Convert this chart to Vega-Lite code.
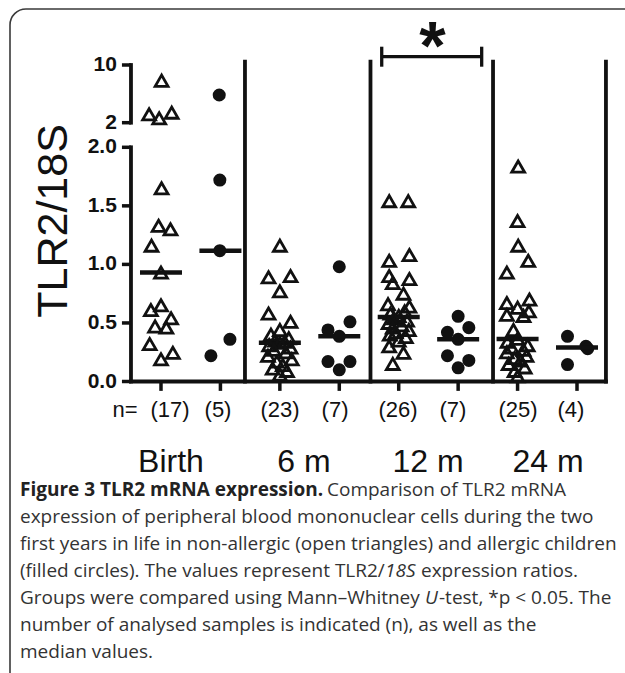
{
  "$schema": "https://vega.github.io/schema/vega-lite/v6.json",
  "width": 630,
  "height": 680,
  "autosize": {"type": "none"},
  "padding": {"left": 10, "top": 9, "right": -15, "bottom": -16},
  "background": "white",
  "config": {
    "view": {"stroke": "#3a3a3a", "strokeWidth": 1.6, "cornerRadius": 16},
    "axis": {"grid": false, "domain": false},
    "font": "Liberation Sans"
  },
  "datasets": {
    "points": [
      {"group": "Birth", "status": "non-allergic", "col": 1, "slot": 1.01, "ratio": 7.82},
      {"group": "Birth", "status": "non-allergic", "col": 1, "slot": 1.18, "ratio": 3.39},
      {"group": "Birth", "status": "non-allergic", "col": 1, "slot": 0.8, "ratio": 3.16},
      {"group": "Birth", "status": "non-allergic", "col": 1, "slot": 0.97, "ratio": 2.61},
      {"group": "Birth", "status": "non-allergic", "col": 1, "slot": 1.01, "ratio": 1.65},
      {"group": "Birth", "status": "non-allergic", "col": 1, "slot": 0.96, "ratio": 1.33},
      {"group": "Birth", "status": "non-allergic", "col": 1, "slot": 1.16, "ratio": 1.3},
      {"group": "Birth", "status": "non-allergic", "col": 1, "slot": 0.84, "ratio": 1.16},
      {"group": "Birth", "status": "non-allergic", "col": 1, "slot": 1.0, "ratio": 0.93},
      {"group": "Birth", "status": "non-allergic", "col": 1, "slot": 1.0, "ratio": 0.65},
      {"group": "Birth", "status": "non-allergic", "col": 1, "slot": 0.83, "ratio": 0.61},
      {"group": "Birth", "status": "non-allergic", "col": 1, "slot": 1.17, "ratio": 0.54},
      {"group": "Birth", "status": "non-allergic", "col": 1, "slot": 0.9, "ratio": 0.47},
      {"group": "Birth", "status": "non-allergic", "col": 1, "slot": 1.09, "ratio": 0.46},
      {"group": "Birth", "status": "non-allergic", "col": 1, "slot": 0.81, "ratio": 0.32},
      {"group": "Birth", "status": "non-allergic", "col": 1, "slot": 1.2, "ratio": 0.245},
      {"group": "Birth", "status": "non-allergic", "col": 1, "slot": 1.0, "ratio": 0.19},
      {"group": "Birth", "status": "allergic", "col": 2, "slot": 1.98, "ratio": 5.84},
      {"group": "Birth", "status": "allergic", "col": 2, "slot": 1.99, "ratio": 1.72},
      {"group": "Birth", "status": "allergic", "col": 2, "slot": 1.99, "ratio": 1.117},
      {"group": "Birth", "status": "allergic", "col": 2, "slot": 2.16, "ratio": 0.36},
      {"group": "Birth", "status": "allergic", "col": 2, "slot": 1.84, "ratio": 0.22},
      {"group": "6 m", "status": "non-allergic", "col": 3, "slot": 3.0, "ratio": 1.16},
      {"group": "6 m", "status": "non-allergic", "col": 3, "slot": 3.18, "ratio": 0.9},
      {"group": "6 m", "status": "non-allergic", "col": 3, "slot": 2.81, "ratio": 0.89},
      {"group": "6 m", "status": "non-allergic", "col": 3, "slot": 3.0, "ratio": 0.77},
      {"group": "6 m", "status": "non-allergic", "col": 3, "slot": 2.81, "ratio": 0.58},
      {"group": "6 m", "status": "non-allergic", "col": 3, "slot": 3.18, "ratio": 0.51},
      {"group": "6 m", "status": "non-allergic", "col": 3, "slot": 3.0, "ratio": 0.44},
      {"group": "6 m", "status": "non-allergic", "col": 3, "slot": 2.85, "ratio": 0.4},
      {"group": "6 m", "status": "non-allergic", "col": 3, "slot": 3.15, "ratio": 0.37},
      {"group": "6 m", "status": "non-allergic", "col": 3, "slot": 2.92, "ratio": 0.35},
      {"group": "6 m", "status": "non-allergic", "col": 3, "slot": 3.08, "ratio": 0.34},
      {"group": "6 m", "status": "non-allergic", "col": 3, "slot": 3.0, "ratio": 0.33},
      {"group": "6 m", "status": "non-allergic", "col": 3, "slot": 2.82, "ratio": 0.31},
      {"group": "6 m", "status": "non-allergic", "col": 3, "slot": 3.18, "ratio": 0.29},
      {"group": "6 m", "status": "non-allergic", "col": 3, "slot": 2.9, "ratio": 0.27},
      {"group": "6 m", "status": "non-allergic", "col": 3, "slot": 3.1, "ratio": 0.25},
      {"group": "6 m", "status": "non-allergic", "col": 3, "slot": 2.8, "ratio": 0.22},
      {"group": "6 m", "status": "non-allergic", "col": 3, "slot": 3.2, "ratio": 0.19},
      {"group": "6 m", "status": "non-allergic", "col": 3, "slot": 2.95, "ratio": 0.17},
      {"group": "6 m", "status": "non-allergic", "col": 3, "slot": 3.05, "ratio": 0.14},
      {"group": "6 m", "status": "non-allergic", "col": 3, "slot": 2.88, "ratio": 0.11},
      {"group": "6 m", "status": "non-allergic", "col": 3, "slot": 3.12, "ratio": 0.09},
      {"group": "6 m", "status": "non-allergic", "col": 3, "slot": 3.0, "ratio": 0.06},
      {"group": "6 m", "status": "allergic", "col": 4, "slot": 4.0, "ratio": 0.98},
      {"group": "6 m", "status": "allergic", "col": 4, "slot": 4.18, "ratio": 0.51},
      {"group": "6 m", "status": "allergic", "col": 4, "slot": 3.81, "ratio": 0.44},
      {"group": "6 m", "status": "allergic", "col": 4, "slot": 4.0, "ratio": 0.386},
      {"group": "6 m", "status": "allergic", "col": 4, "slot": 3.81, "ratio": 0.17},
      {"group": "6 m", "status": "allergic", "col": 4, "slot": 4.18, "ratio": 0.17},
      {"group": "6 m", "status": "allergic", "col": 4, "slot": 4.0, "ratio": 0.1},
      {"group": "12 m", "status": "non-allergic", "col": 5, "slot": 4.84, "ratio": 1.54},
      {"group": "12 m", "status": "non-allergic", "col": 5, "slot": 5.16, "ratio": 1.54},
      {"group": "12 m", "status": "non-allergic", "col": 5, "slot": 5.18, "ratio": 1.08},
      {"group": "12 m", "status": "non-allergic", "col": 5, "slot": 4.84, "ratio": 1.03},
      {"group": "12 m", "status": "non-allergic", "col": 5, "slot": 4.84, "ratio": 0.9},
      {"group": "12 m", "status": "non-allergic", "col": 5, "slot": 5.18, "ratio": 0.875},
      {"group": "12 m", "status": "non-allergic", "col": 5, "slot": 4.9, "ratio": 0.84},
      {"group": "12 m", "status": "non-allergic", "col": 5, "slot": 5.08, "ratio": 0.75},
      {"group": "12 m", "status": "non-allergic", "col": 5, "slot": 4.82, "ratio": 0.66},
      {"group": "12 m", "status": "non-allergic", "col": 5, "slot": 5.18, "ratio": 0.64},
      {"group": "12 m", "status": "non-allergic", "col": 5, "slot": 5.1, "ratio": 0.6},
      {"group": "12 m", "status": "non-allergic", "col": 5, "slot": 4.86, "ratio": 0.58},
      {"group": "12 m", "status": "non-allergic", "col": 5, "slot": 5.0, "ratio": 0.56},
      {"group": "12 m", "status": "non-allergic", "col": 5, "slot": 4.92, "ratio": 0.54},
      {"group": "12 m", "status": "non-allergic", "col": 5, "slot": 5.14, "ratio": 0.52},
      {"group": "12 m", "status": "non-allergic", "col": 5, "slot": 4.83, "ratio": 0.5},
      {"group": "12 m", "status": "non-allergic", "col": 5, "slot": 5.05, "ratio": 0.48},
      {"group": "12 m", "status": "non-allergic", "col": 5, "slot": 4.9, "ratio": 0.46},
      {"group": "12 m", "status": "non-allergic", "col": 5, "slot": 5.17, "ratio": 0.44},
      {"group": "12 m", "status": "non-allergic", "col": 5, "slot": 4.95, "ratio": 0.42},
      {"group": "12 m", "status": "non-allergic", "col": 5, "slot": 4.85, "ratio": 0.4},
      {"group": "12 m", "status": "non-allergic", "col": 5, "slot": 5.12, "ratio": 0.38},
      {"group": "12 m", "status": "non-allergic", "col": 5, "slot": 5.0, "ratio": 0.35},
      {"group": "12 m", "status": "non-allergic", "col": 5, "slot": 4.84, "ratio": 0.3},
      {"group": "12 m", "status": "non-allergic", "col": 5, "slot": 5.08, "ratio": 0.245},
      {"group": "12 m", "status": "non-allergic", "col": 5, "slot": 4.9, "ratio": 0.15},
      {"group": "12 m", "status": "allergic", "col": 6, "slot": 6.0, "ratio": 0.557},
      {"group": "12 m", "status": "allergic", "col": 6, "slot": 6.18, "ratio": 0.46},
      {"group": "12 m", "status": "allergic", "col": 6, "slot": 5.82, "ratio": 0.42},
      {"group": "12 m", "status": "allergic", "col": 6, "slot": 6.0, "ratio": 0.36},
      {"group": "12 m", "status": "allergic", "col": 6, "slot": 5.82, "ratio": 0.22},
      {"group": "12 m", "status": "allergic", "col": 6, "slot": 6.18, "ratio": 0.18},
      {"group": "12 m", "status": "allergic", "col": 6, "slot": 6.0, "ratio": 0.117},
      {"group": "24 m", "status": "non-allergic", "col": 7, "slot": 7.01, "ratio": 1.835},
      {"group": "24 m", "status": "non-allergic", "col": 7, "slot": 7.0, "ratio": 1.37},
      {"group": "24 m", "status": "non-allergic", "col": 7, "slot": 7.01, "ratio": 1.16},
      {"group": "24 m", "status": "non-allergic", "col": 7, "slot": 7.18, "ratio": 1.03},
      {"group": "24 m", "status": "non-allergic", "col": 7, "slot": 6.82, "ratio": 0.93},
      {"group": "24 m", "status": "non-allergic", "col": 7, "slot": 7.2, "ratio": 0.7},
      {"group": "24 m", "status": "non-allergic", "col": 7, "slot": 6.82, "ratio": 0.67},
      {"group": "24 m", "status": "non-allergic", "col": 7, "slot": 7.0, "ratio": 0.63},
      {"group": "24 m", "status": "non-allergic", "col": 7, "slot": 7.19, "ratio": 0.6},
      {"group": "24 m", "status": "non-allergic", "col": 7, "slot": 6.82, "ratio": 0.57},
      {"group": "24 m", "status": "non-allergic", "col": 7, "slot": 7.1, "ratio": 0.56},
      {"group": "24 m", "status": "non-allergic", "col": 7, "slot": 6.93, "ratio": 0.44},
      {"group": "24 m", "status": "non-allergic", "col": 7, "slot": 7.0, "ratio": 0.364},
      {"group": "24 m", "status": "non-allergic", "col": 7, "slot": 6.83, "ratio": 0.34},
      {"group": "24 m", "status": "non-allergic", "col": 7, "slot": 7.17, "ratio": 0.31},
      {"group": "24 m", "status": "non-allergic", "col": 7, "slot": 6.9, "ratio": 0.29},
      {"group": "24 m", "status": "non-allergic", "col": 7, "slot": 7.1, "ratio": 0.27},
      {"group": "24 m", "status": "non-allergic", "col": 7, "slot": 6.82, "ratio": 0.25},
      {"group": "24 m", "status": "non-allergic", "col": 7, "slot": 7.15, "ratio": 0.22},
      {"group": "24 m", "status": "non-allergic", "col": 7, "slot": 6.95, "ratio": 0.2},
      {"group": "24 m", "status": "non-allergic", "col": 7, "slot": 7.05, "ratio": 0.18},
      {"group": "24 m", "status": "non-allergic", "col": 7, "slot": 6.85, "ratio": 0.15},
      {"group": "24 m", "status": "non-allergic", "col": 7, "slot": 7.12, "ratio": 0.12},
      {"group": "24 m", "status": "non-allergic", "col": 7, "slot": 6.95, "ratio": 0.09},
      {"group": "24 m", "status": "non-allergic", "col": 7, "slot": 7.0, "ratio": 0.045},
      {"group": "24 m", "status": "allergic", "col": 8, "slot": 7.84, "ratio": 0.386},
      {"group": "24 m", "status": "allergic", "col": 8, "slot": 8.15, "ratio": 0.3},
      {"group": "24 m", "status": "allergic", "col": 8, "slot": 8.18, "ratio": 0.28},
      {"group": "24 m", "status": "allergic", "col": 8, "slot": 7.84, "ratio": 0.145}
    ],
    "frame": [
      {"part": "separator", "slot": 2.413, "slot2": 2.413, "low": 0, "high": 10.45},
      {"part": "separator", "slot": 4.525, "slot2": 4.525, "low": 0, "high": 10.45},
      {"part": "separator", "slot": 6.587, "slot2": 6.587, "low": 0, "high": 10.45},
      {"part": "separator", "slot": 8.487, "slot2": 8.487, "low": 0, "high": 10.45},
      {"part": "y axis lower", "slot": 0.495, "slot2": 0.495, "low": 0, "high": 2},
      {"part": "y axis upper", "slot": 0.495, "slot2": 0.495, "low": 2.0001, "high": 10},
      {"part": "x axis", "slot": 0.495, "slot2": 8.487, "low": 0, "high": 0}
    ],
    "yticks": [
      {"tick": 0, "label": "0.0"},
      {"tick": 0.5, "label": "0.5"},
      {"tick": 1, "label": "1.0"},
      {"tick": 1.5, "label": "1.5"},
      {"tick": 2, "label": "2.0"},
      {"tick": 2.0001, "label": "2"},
      {"tick": 10, "label": "10"}
    ],
    "xticks": [
      {"col": 1}, {"col": 2}, {"col": 3}, {"col": 4}, {"col": 5}, {"col": 6}, {"col": 7}, {"col": 8}
    ],
    "bracket": [
      {"part": "bar", "slot": 4.714, "slot2": 6.396, "low": 11.151, "high": 11.151},
      {"part": "left cap", "slot": 4.714, "slot2": 4.714, "low": 9.764, "high": 12.537},
      {"part": "right cap", "slot": 6.396, "slot2": 6.396, "low": 9.764, "high": 12.537}
    ],
    "labels": [
      {"kind": "n", "text": "n=", "slot": 0.394, "line": -1.967},
      {"kind": "n", "text": "(17)", "slot": 1.151, "line": -1.967},
      {"kind": "n", "text": "(5)", "slot": 1.959, "line": -1.967},
      {"kind": "n", "text": "(23)", "slot": 3.002, "line": -1.967},
      {"kind": "n", "text": "(7)", "slot": 3.928, "line": -1.967},
      {"kind": "n", "text": "(26)", "slot": 4.988, "line": -1.967},
      {"kind": "n", "text": "(7)", "slot": 5.913, "line": -1.967},
      {"kind": "n", "text": "(25)", "slot": 7.007, "line": -1.967},
      {"kind": "n", "text": "(4)", "slot": 7.898, "line": -1.967},
      {"kind": "group", "text": "Birth", "slot": 1.168, "line": -0.04},
      {"kind": "group", "text": "6 m", "slot": 3.406, "line": -0.04},
      {"kind": "group", "text": "12 m", "slot": 5.493, "line": -0.04},
      {"kind": "group", "text": "24 m", "slot": 7.512, "line": -0.04}
    ],
    "caption": [
      {"line": 1, "seg": "title", "text": "Figure 3 TLR2 mRNA expression."},
      {"line": 1, "seg": "after-title", "text": "Comparison of TLR2 mRNA"},
      {"line": 2, "seg": "start", "text": "expression of peripheral blood mononuclear cells during the two"},
      {"line": 3, "seg": "start", "text": "first years in life in non-allergic (open triangles) and allergic children"},
      {"line": 4, "seg": "start", "text": "(filled circles). The values represent TLR2/"},
      {"line": 4, "seg": "italic-a", "text": "18S"},
      {"line": 4, "seg": "after-a", "text": "expression ratios."},
      {"line": 5, "seg": "start", "text": "Groups were compared using Mann–Whitney"},
      {"line": 5, "seg": "italic-b", "text": "U"},
      {"line": 5, "seg": "after-b", "text": "-test, *p < 0.05. The"},
      {"line": 6, "seg": "start", "text": "number of analysed samples is indicated (n), as well as the"},
      {"line": 7, "seg": "start", "text": "median values."}
    ]
  },
  "layer": [
    {
      "layer": [
        {
          "data": {"name": "frame"},
          "mark": {"type": "rule", "color": "#111", "strokeWidth": 3.8, "strokeCap": "square"},
          "encoding": {
            "x": {"field": "slot", "type": "quantitative", "scale": {"domain": [-1.5407, 9.06], "nice": false, "zero": false}, "axis": null},
            "x2": {"field": "slot2"},
            "y": {"field": "low", "type": "quantitative", "scale": {"domain": [0, 2, 2.0001, 10], "range": [372.5, 138.3, 113.7, 56], "nice": false, "zero": false}, "axis": null},
            "y2": {"field": "high"}
          }
        },
        {
          "data": {"name": "yticks"},
          "mark": {"type": "rule", "color": "#111", "strokeWidth": 3.5},
          "encoding": {
            "x": {"datum": 0.343, "type": "quantitative", "axis": null},
            "x2": {"datum": 0.495},
            "y": {"field": "tick", "type": "quantitative", "axis": null}
          }
        },
        {
          "data": {"name": "yticks"},
          "mark": {"type": "text", "font": "Liberation Sans", "fontWeight": "bold", "fontSize": 21, "color": "#111", "align": "right", "baseline": "middle"},
          "encoding": {
            "x": {"datum": 0.257, "type": "quantitative", "axis": null},
            "y": {"field": "tick", "type": "quantitative", "axis": null},
            "text": {"field": "label"}
          }
        },
        {
          "data": {"name": "xticks"},
          "mark": {"type": "rule", "color": "#111", "strokeWidth": 3.5},
          "encoding": {
            "x": {"field": "col", "type": "quantitative", "axis": null},
            "y": {"datum": 0, "type": "quantitative", "axis": null},
            "y2": {"datum": -0.08}
          }
        },
        {
          "data": {"values": [{"title": "TLR2/18S"}]},
          "mark": {"type": "text", "font": "Liberation Sans", "fontSize": 43, "color": "#111", "align": "center", "baseline": "middle", "angle": 270},
          "encoding": {
            "x": {"datum": -0.792, "type": "quantitative", "axis": null},
            "y": {"datum": 1.371, "type": "quantitative", "axis": null},
            "text": {"field": "title"}
          }
        },
        {
          "data": {"name": "bracket"},
          "mark": {"type": "rule", "color": "#111", "strokeWidth": 3.3, "strokeCap": "butt"},
          "encoding": {
            "x": {"field": "slot", "type": "quantitative", "axis": null},
            "x2": {"field": "slot2"},
            "y": {"field": "low", "type": "quantitative", "axis": null},
            "y2": {"field": "high"}
          }
        },
        {
          "data": {"values": [{"text": "*"}]},
          "mark": {"type": "text", "font": "Liberation Sans", "fontWeight": "bold", "fontSize": 68, "color": "#111", "align": "center", "baseline": "alphabetic", "dy": 12},
          "encoding": {
            "x": {"datum": 5.57, "type": "quantitative", "axis": null},
            "y": {"datum": 11.151, "type": "quantitative", "axis": null},
            "text": {"field": "text"}
          }
        },
        {
          "data": {"name": "points"},
          "transform": [{"filter": "datum.status == 'allergic'"}],
          "mark": {"type": "point", "shape": "circle", "filled": true, "color": "#111", "size": 170, "opacity": 1},
          "encoding": {
            "x": {"field": "slot", "type": "quantitative", "axis": null},
            "y": {"field": "ratio", "type": "quantitative", "axis": null}
          }
        },
        {
          "data": {"name": "points"},
          "mark": {"type": "tick", "orient": "horizontal", "color": "#111", "size": 42, "thickness": 4.5, "opacity": 1},
          "encoding": {
            "x": {"field": "col", "type": "quantitative", "axis": null},
            "y": {"aggregate": "median", "field": "ratio", "type": "quantitative", "axis": null}
          }
        },
        {
          "data": {"name": "points"},
          "transform": [{"filter": "datum.status == 'non-allergic'"}],
          "mark": {"type": "point", "shape": "triangle-up", "filled": false, "stroke": "#111", "strokeWidth": 2.8, "size": 165, "opacity": 1},
          "encoding": {
            "x": {"field": "slot", "type": "quantitative", "axis": null},
            "y": {"field": "ratio", "type": "quantitative", "axis": null}
          }
        }
      ]
    },
    {
      "layer": [
        {
          "data": {"name": "labels"},
          "transform": [{"filter": "datum.kind == 'n'"}],
          "mark": {"type": "text", "font": "Liberation Sans", "fontSize": 22, "color": "#111", "align": "center", "baseline": "middle"},
          "encoding": {
            "x": {"field": "slot", "type": "quantitative", "scale": {"domain": [-1.5407, 9.06], "nice": false, "zero": false}, "axis": null},
            "y": {"field": "line", "type": "quantitative", "scale": {"domain": [1, 7], "range": [481, 643], "nice": false, "zero": false}, "axis": null},
            "text": {"field": "text"}
          }
        },
        {
          "data": {"name": "labels"},
          "transform": [{"filter": "datum.kind == 'group'"}],
          "mark": {"type": "text", "font": "Liberation Sans", "fontSize": 32, "color": "#111", "align": "center", "baseline": "middle"},
          "encoding": {
            "x": {"field": "slot", "type": "quantitative", "axis": null},
            "y": {"field": "line", "type": "quantitative", "axis": null},
            "text": {"field": "text"}
          }
        },
        {
          "data": {"name": "caption"},
          "transform": [{"filter": "datum.seg == 'start'"}],
          "mark": {"type": "text", "font": "Open Sans", "fontSize": 19, "color": "#333", "align": "left", "baseline": "middle"},
          "encoding": {
            "x": {"datum": -1.3724, "type": "quantitative", "axis": null},
            "y": {"field": "line", "type": "quantitative", "axis": null},
            "text": {"field": "text"}
          }
        },
        {
          "data": {"name": "caption"},
          "transform": [{"filter": "datum.seg == 'title'"}],
          "mark": {"type": "text", "font": "Open Sans", "fontSize": 19, "fontWeight": "bold", "color": "#222", "align": "left", "baseline": "middle"},
          "encoding": {
            "x": {"datum": -1.3724, "type": "quantitative", "axis": null},
            "y": {"field": "line", "type": "quantitative", "axis": null},
            "text": {"field": "text"}
          }
        },
        {
          "data": {"name": "caption"},
          "transform": [{"filter": "datum.seg == 'after-title'"}],
          "mark": {"type": "text", "font": "Open Sans", "fontSize": 19, "color": "#333", "align": "left", "baseline": "middle", "dx": 307},
          "encoding": {
            "x": {"datum": -1.3724, "type": "quantitative", "axis": null},
            "y": {"field": "line", "type": "quantitative", "axis": null},
            "text": {"field": "text"}
          }
        },
        {
          "data": {"name": "caption"},
          "transform": [{"filter": "datum.seg == 'italic-a'"}],
          "mark": {"type": "text", "font": "Open Sans", "fontSize": 19, "fontStyle": "italic", "color": "#333", "align": "left", "baseline": "middle", "dx": 365},
          "encoding": {
            "x": {"datum": -1.3724, "type": "quantitative", "axis": null},
            "y": {"field": "line", "type": "quantitative", "axis": null},
            "text": {"field": "text"}
          }
        },
        {
          "data": {"name": "caption"},
          "transform": [{"filter": "datum.seg == 'after-a'"}],
          "mark": {"type": "text", "font": "Open Sans", "fontSize": 19, "color": "#333", "align": "left", "baseline": "middle", "dx": 401},
          "encoding": {
            "x": {"datum": -1.3724, "type": "quantitative", "axis": null},
            "y": {"field": "line", "type": "quantitative", "axis": null},
            "text": {"field": "text"}
          }
        },
        {
          "data": {"name": "caption"},
          "transform": [{"filter": "datum.seg == 'italic-b'"}],
          "mark": {"type": "text", "font": "Open Sans", "fontSize": 19, "fontStyle": "italic", "color": "#333", "align": "left", "baseline": "middle", "dx": 405},
          "encoding": {
            "x": {"datum": -1.3724, "type": "quantitative", "axis": null},
            "y": {"field": "line", "type": "quantitative", "axis": null},
            "text": {"field": "text"}
          }
        },
        {
          "data": {"name": "caption"},
          "transform": [{"filter": "datum.seg == 'after-b'"}],
          "mark": {"type": "text", "font": "Open Sans", "fontSize": 19, "color": "#333", "align": "left", "baseline": "middle", "dx": 419},
          "encoding": {
            "x": {"datum": -1.3724, "type": "quantitative", "axis": null},
            "y": {"field": "line", "type": "quantitative", "axis": null},
            "text": {"field": "text"}
          }
        }
      ]
    }
  ],
  "resolve": {"scale": {"y": "independent"}}
}
